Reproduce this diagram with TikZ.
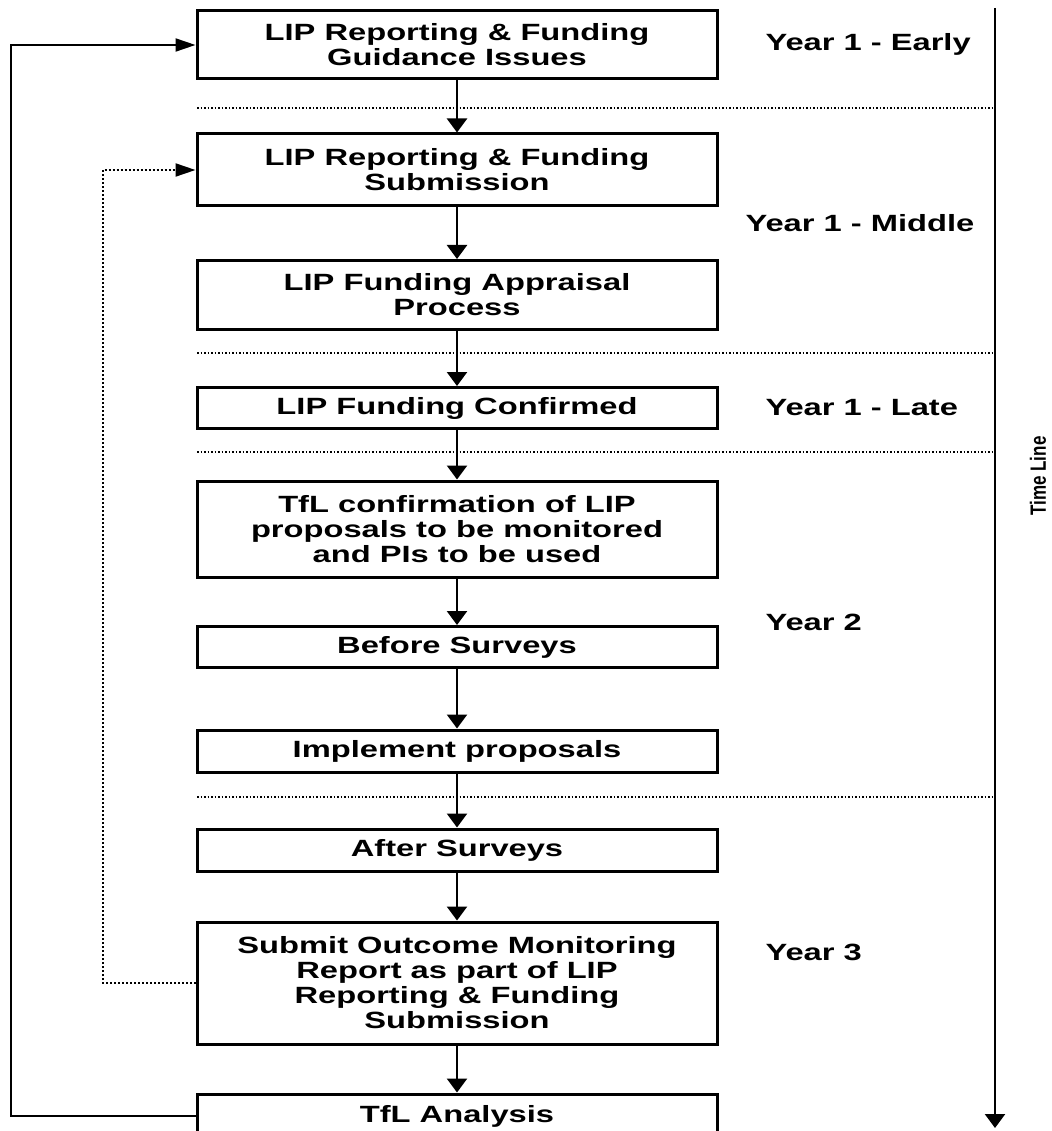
\documentclass[tikz,border=0pt]{standalone}
\usepackage{graphicx}
\usepackage{fontspec}
\setmainfont{Liberation Sans}
\newfontfamily\widefont[FakeStretch=1.39]{Liberation Sans}
\usetikzlibrary{arrows.meta}

\begin{document}
\begin{tikzpicture}[x=1pt, y=-1pt,
    stage/.style={draw, rectangle, line width=3pt, minimum width=520pt, inner sep=0pt, align=center, font=\widefont\bfseries\fontsize{23.5}{25}\selectfont},
    flow/.style={line width=2.4pt, -{Triangle[length=14pt, width=20pt]}},
    loopflow/.style={line width=2pt, -{Triangle[length=20pt, width=13pt]}},
    period/.style={dotted, line width=1.5pt},
    yearlabel/.style={anchor=west, font=\widefont\bfseries\fontsize{23.5}{25}\selectfont}]

        % Fix the page to the picture size
        \useasboundingbox (0,0) rectangle (1051,1131);
        \clip (0,0) rectangle (1051,1131);

        % Define the process boxes
        \node[stage, minimum height=68pt] (guide) at (457,45) {LIP Reporting \& Funding\\Guidance Issues};
        \node[stage, minimum height=72pt] (submit) at (457,170) {LIP Reporting \& Funding\\Submission};
        \node[stage, minimum height=69pt] (appraise) at (457,295) {LIP Funding Appraisal\\Process};
        \node[stage, minimum height=41pt] (confirm) at (457,408) {LIP Funding Confirmed};
        \node[stage, minimum height=96pt] (tflconf) at (457,529) {TfL confirmation of LIP\\proposals to be monitored\\and PIs to be used};
        \node[stage, minimum height=41pt] (before) at (457,647) {Before Surveys};
        \node[stage, minimum height=42pt] (implement) at (457,751) {Implement proposals};
        \node[stage, minimum height=42pt] (after) at (457,850) {After Surveys};
        \node[stage, minimum height=122pt] (outcome) at (457,983) {Submit Outcome Monitoring\\Report as part of LIP\\Reporting \& Funding\\Submission};
        \node[stage, minimum height=44pt] (analysis) at (457,1116) {TfL Analysis};

        % Draw the period separators
        \foreach \y in {108,353,452,797}
            \draw[period] (197,\y) -- (995,\y);

        % Time line on the right
        \coordinate (tstart) at (995,8);
        \coordinate (tend) at (995,1128);
        \draw[flow] (tstart) -- (tend);
        \node[rotate=90, inner sep=0pt, font=\bfseries\fontsize{17}{20}\selectfont] (tlabel) at (1038,476) {\scalebox{1}[1.3]{Time Line}};

        % Year labels
        \node[yearlabel] (early) at (762,44) {Year 1 - Early};
        \node[yearlabel] (middle) at (742,223) {Year 1 - Middle};
        \node[yearlabel] (late) at (762,408) {Year 1 - Late};
        \node[yearlabel] (year2) at (762,622) {Year 2};
        \node[yearlabel] (year3) at (762,952) {Year 3};

        % Draw the arrows between the boxes
        \draw[flow] (guide.south) -- (submit.north);
        \draw[flow] (submit.south) -- (appraise.north);
        \draw[flow] (appraise.south) -- (confirm.north);
        \draw[flow] (confirm.south) -- (tflconf.north);
        \draw[flow] (tflconf.south) -- (before.north);
        \draw[flow] (before.south) -- (implement.north);
        \draw[flow] (implement.south) -- (after.north);
        \draw[flow] (after.south) -- (outcome.north);
        \draw[flow] (outcome.south) -- (analysis.north);

        % Feedback loops
        \draw[loopflow] (analysis.west) -- ++(-185,0) |- (guide.west); % Back to guidance
        \draw[loopflow, dotted] (outcome.west) -- ++(-93,0) |- (submit.west); % Back to submission
    \end{tikzpicture}
\end{document}
